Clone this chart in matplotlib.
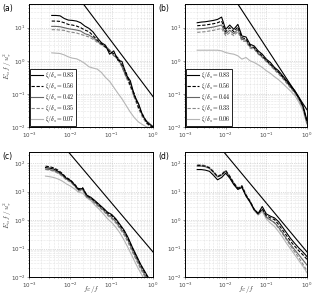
import numpy as np
import matplotlib
matplotlib.use("Agg")
import matplotlib.pyplot as plt

# ---------------- data (log10 values) ----------------
xa = [-2.45,-2.35,-2.25,-2.15,-2.05,-1.95,-1.85,-1.75,-1.65,-1.55,-1.45,-1.35,-1.25,
      -1.15,-1.05,-0.95,-0.85,-0.75,-0.65,-0.55,-0.45,-0.35,-0.25,-0.15,-0.05,0.0]
a_083 = [1.37,1.37,1.36,1.28,1.23,1.22,1.20,1.15,1.05,0.98,0.87,0.70,0.55,0.47,0.20,0.30,0.02,-0.02,-0.42,-0.60,-1.05,-1.30,-1.65,-1.85,-1.95,-2.0]
a_056 = [1.20,1.20,1.19,1.15,1.10,1.08,1.05,1.00,0.93,0.88,0.76,0.63,0.52,0.42,0.28,0.22,0.08,-0.12,-0.35,-0.75,-1.00,-1.42,-1.62,-1.88,-1.98,-2.02]
a_042 = [1.04,1.04,1.03,1.00,0.97,0.95,0.93,0.90,0.82,0.78,0.70,0.60,0.50,0.44,0.33,0.15,0.10,-0.18,-0.48,-0.65,-1.10,-1.30,-1.68,-1.82,-1.93,-1.98]
a_035 = [0.94,0.94,0.93,0.92,0.88,0.86,0.84,0.80,0.76,0.72,0.65,0.56,0.48,0.40,0.30,0.18,0.02,-0.18,-0.50,-0.78,-1.12,-1.45,-1.72,-1.90,-2.0,-2.05]
a_007 = [0.24,0.23,0.22,0.18,0.12,0.08,0.06,0.00,-0.08,-0.18,-0.22,-0.25,-0.35,-0.50,-0.62,-0.80,-0.98,-1.15,-1.35,-1.55,-1.72,-1.85,-1.93,-2.0,-2.02,-2.05]

xb = [-2.7,-2.6,-2.5,-2.4,-2.3,-2.2,-2.1,-2.0,-1.9,-1.8,-1.7,-1.6,-1.5,-1.4,-1.3,-1.2,
      -1.1,-1.0,-0.9,-0.8,-0.7,-0.6,-0.5,-0.4,-0.3,-0.2,-0.1,0.0]
b_083 = [1.15,1.17,1.18,1.20,1.22,1.25,1.32,0.95,1.08,0.95,1.10,0.75,0.72,0.50,0.45,0.30,0.20,0.05,-0.05,-0.20,-0.30,-0.45,-0.60,-0.75,-0.90,-1.10,-1.35,-1.80]
b_056 = [1.06,1.07,1.08,1.10,1.12,1.15,1.20,0.88,1.00,0.88,1.02,0.70,0.66,0.46,0.40,0.26,0.15,0.02,-0.10,-0.22,-0.34,-0.48,-0.62,-0.78,-0.93,-1.12,-1.38,-1.85]
b_044 = [0.96,0.97,0.98,1.00,1.02,1.05,1.08,0.82,0.92,0.82,0.95,0.65,0.62,0.42,0.38,0.22,0.12,0.00,-0.12,-0.25,-0.36,-0.50,-0.65,-0.80,-0.95,-1.15,-1.40,-1.88]
b_033 = [0.86,0.87,0.88,0.90,0.92,0.95,0.98,0.76,0.85,0.76,0.88,0.60,0.58,0.38,0.35,0.20,0.10,-0.03,-0.14,-0.28,-0.40,-0.53,-0.68,-0.83,-0.98,-1.18,-1.42,-1.90]
b_006 = [0.32,0.32,0.32,0.32,0.32,0.32,0.30,0.25,0.22,0.20,0.15,0.05,0.10,0.00,-0.05,-0.12,-0.20,-0.30,-0.38,-0.48,-0.57,-0.68,-0.80,-0.92,-1.05,-1.25,-1.50,-1.92]

xc = [-2.6,-2.5,-2.4,-2.3,-2.2,-2.1,-2.0,-1.9,-1.8,-1.7,-1.6,-1.5,-1.4,-1.3,-1.2,-1.1,
      -1.0,-0.9,-0.8,-0.7,-0.6,-0.5,-0.4,-0.3,-0.2,-0.1,0.0]
c_1 = [1.85,1.83,1.80,1.72,1.62,1.48,1.40,1.25,1.08,1.12,0.88,0.80,0.68,0.55,0.42,0.28,0.20,0.05,-0.15,-0.35,-0.62,-0.95,-1.25,-1.55,-1.80,-2.05,-2.30]
c_2 = [1.90,1.88,1.84,1.76,1.65,1.50,1.42,1.27,1.10,1.14,0.86,0.78,0.66,0.52,0.40,0.25,0.16,0.02,-0.18,-0.38,-0.66,-0.98,-1.28,-1.58,-1.84,-2.08,-2.32]
c_3 = [1.80,1.78,1.75,1.68,1.58,1.45,1.37,1.22,1.05,1.08,0.82,0.75,0.62,0.48,0.36,0.20,0.10,-0.05,-0.25,-0.45,-0.72,-1.05,-1.35,-1.65,-1.92,-2.15,-2.40]
c_4 = [1.78,1.76,1.72,1.65,1.55,1.42,1.34,1.20,1.02,1.05,0.80,0.72,0.58,0.45,0.32,0.16,0.05,-0.10,-0.30,-0.52,-0.80,-1.12,-1.42,-1.72,-1.98,-2.20,-2.45]
c_5 = [1.55,1.53,1.50,1.45,1.38,1.28,1.20,1.10,0.98,0.95,0.78,0.68,0.52,0.38,0.22,0.05,-0.08,-0.25,-0.45,-0.70,-0.98,-1.28,-1.58,-1.85,-2.10,-2.35,-2.55]

xd = [-2.7,-2.6,-2.5,-2.4,-2.3,-2.2,-2.1,-2.0,-1.9,-1.8,-1.7,-1.6,-1.5,-1.4,-1.3,-1.2,
      -1.1,-1.0,-0.9,-0.8,-0.7,-0.6,-0.5,-0.4,-0.3,-0.2,-0.1,0.0]
d_1 = [1.78,1.78,1.76,1.72,1.58,1.42,1.50,1.65,1.48,1.25,1.08,1.15,0.85,0.64,0.38,0.24,0.48,0.22,0.14,0.08,-0.05,-0.25,-0.45,-0.65,-0.82,-0.98,-1.12,-1.28]
d_2 = [1.92,1.92,1.90,1.84,1.70,1.53,1.60,1.74,1.54,1.30,1.12,1.20,0.88,0.66,0.38,0.22,0.40,0.16,0.08,0.02,-0.15,-0.35,-0.55,-0.75,-0.92,-1.08,-1.22,-1.38]
d_3 = [1.90,1.90,1.88,1.82,1.68,1.52,1.58,1.72,1.52,1.28,1.10,1.18,0.86,0.64,0.36,0.20,0.38,0.10,0.00,-0.08,-0.25,-0.45,-0.66,-0.86,-1.05,-1.22,-1.40,-1.58]
d_4 = [1.95,1.95,1.92,1.86,1.72,1.55,1.62,1.76,1.56,1.32,1.14,1.22,0.90,0.68,0.40,0.24,0.36,0.12,0.02,-0.10,-0.28,-0.48,-0.70,-0.92,-1.12,-1.32,-1.55,-1.78]
d_5 = [1.93,1.93,1.90,1.84,1.70,1.54,1.60,1.74,1.54,1.30,1.12,1.18,0.86,0.62,0.34,0.18,0.30,0.04,-0.10,-0.22,-0.40,-0.60,-0.82,-1.02,-1.22,-1.42,-1.62,-1.85]

labels_a = ["0.83", "0.56", "0.42", "0.35", "0.07"]
labels_b = ["0.83", "0.56", "0.44", "0.33", "0.06"]

# reference power-law line: y = coef * x**expo
ref_a = (0.083, -1.66)
ref_b = (0.033, -1.88)
ref_c = (0.076, -1.72)
ref_d = (0.076, -1.72)

ylims = {"a": (1e-2, 52), "b": (1e-2, 52), "c": (1e-2, 250), "d": (1e-2, 250)}

# ---------------- styles ----------------
styles = [dict(color="black", ls="-"),
          dict(color="black", ls=(0, (3, 1.5))),
          dict(color="#666666", ls="-"),
          dict(color="#888888", ls=(0, (3, 1.5))),
          dict(color="#b5b5b5", ls="-")]

plt.rcParams["mathtext.fontset"] = "cm"
fig = plt.figure(figsize=(3.12, 2.97), dpi=100)

W, H = 312, 297
def rect(l, t, r, b):
    return [l / W, 1 - b / H, (r - l) / W, (b - t) / H]

panels = [
    ("a", rect(29, 4, 153, 127), xa, [a_083, a_056, a_042, a_035, a_007], ref_a, labels_a),
    ("b", rect(185, 4, 307, 127), xb, [b_083, b_056, b_044, b_033, b_006], ref_b, labels_b),
    ("c", rect(29, 152, 153, 277), xc, [c_1, c_2, c_3, c_4, c_5], ref_c, None),
    ("d", rect(185, 152, 307, 277), xd, [d_1, d_2, d_3, d_4, d_5], ref_d, None),
]

for name, pos, xs, series, ref, labs in panels:
    ax = fig.add_axes(pos)
    ax.set_xscale("log")
    ax.set_yscale("log")
    x = 10 ** np.array(xs)
    for i in reversed(range(len(series))):
        y = 10 ** np.array(series[i])
        lab = None if labs is None else r"$\xi/\delta_s = %s$" % labs[i]
        ax.plot(x, y, lw=0.8, label=lab, **styles[i])
    xr = np.logspace(-3, 0, 50)
    ax.plot(xr, ref[0] * xr ** ref[1], color="black", lw=0.8)
    ax.set_xlim(1e-3, 1)
    ax.set_ylim(*ylims[name])
    ax.grid(True, which="major", color="#bdbdbd", ls=":", lw=0.5)
    ax.grid(True, which="minor", color="#cfcfcf", ls=":", lw=0.4)
    ax.tick_params(which="both", labelsize=4, length=1.5, width=0.4, pad=1, colors="#444444")
    ax.tick_params(which="minor", length=1)
    for s in ax.spines.values():
        s.set_linewidth(0.7)
    ax.text(-0.215, 1.0, "(%s)" % name, transform=ax.transAxes, fontsize=5.5,
            va="top", ha="left")
    if name in ("a", "c"):
        ax.set_ylabel(r"$E_u\,f\,/\,u_\tau^2$", fontsize=5.3, color="#444444")
        ax.yaxis.set_label_coords(-0.125, 0.5)
    if name in ("c", "d"):
        ax.set_xlabel(r"$f\varepsilon/f$", fontsize=5.3, color="#444444")
        ax.xaxis.set_label_coords(0.5, -0.055)
    if labs is not None:
        h, l = ax.get_legend_handles_labels()
        leg = ax.legend(h[::-1], l[::-1], loc="lower left", fontsize=4.3,
                        handlelength=2.0, handletextpad=0.3, labelspacing=0.0,
                        borderpad=0.2, borderaxespad=0.1, framealpha=1,
                        fancybox=False, edgecolor="black")
        leg.get_frame().set_linewidth(0.6)

fig.savefig("out.png", dpi=100)
